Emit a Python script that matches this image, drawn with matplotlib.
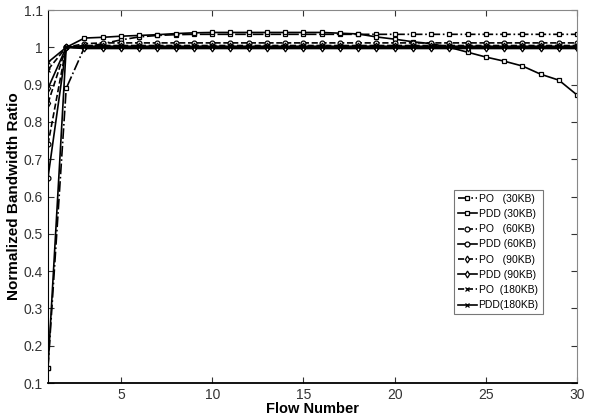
import numpy as np
import matplotlib
matplotlib.use('Agg')
import matplotlib.pyplot as plt

plt.rcParams['font.family'] = ['Liberation Sans Narrow', 'Liberation Sans', 'DejaVu Sans']

flows = list(range(1, 31))

po_30 = [0.14, 0.89, 1.0, 1.01, 1.02, 1.028, 1.032, 1.034, 1.035, 1.035,
         1.035, 1.035, 1.035, 1.035, 1.035, 1.035, 1.035, 1.035, 1.035, 1.035,
         1.035, 1.035, 1.035, 1.035, 1.035, 1.035, 1.035, 1.035, 1.035, 1.035]
pdd_30 = [0.14, 1.0, 1.025, 1.027, 1.03, 1.032, 1.034, 1.037, 1.039, 1.04,
          1.04, 1.04, 1.04, 1.04, 1.04, 1.04, 1.038, 1.036, 1.028, 1.022,
          1.015, 1.01, 1.0, 0.987, 0.974, 0.963, 0.95, 0.928, 0.912, 0.872]
po_60 = [0.74, 1.0, 1.01, 1.012, 1.012, 1.012, 1.012, 1.012, 1.012, 1.012,
         1.012, 1.012, 1.012, 1.012, 1.012, 1.012, 1.012, 1.012, 1.012, 1.012,
         1.012, 1.012, 1.012, 1.012, 1.012, 1.012, 1.012, 1.012, 1.012, 1.012]
pdd_60 = [0.65, 1.0, 1.0, 1.0, 1.0, 1.0, 1.0, 1.0, 1.0, 1.0,
          1.0, 1.0, 1.0, 1.0, 1.0, 1.0, 1.0, 1.0, 1.0, 1.0,
          1.0, 1.0, 1.0, 1.0, 1.0, 1.0, 1.0, 1.0, 1.0, 1.0]
po_90 = [0.85, 1.0, 1.005, 1.005, 1.005, 1.005, 1.005, 1.005, 1.005, 1.005,
         1.005, 1.005, 1.005, 1.005, 1.005, 1.005, 1.005, 1.005, 1.005, 1.005,
         1.005, 1.005, 1.005, 1.005, 1.005, 1.005, 1.005, 1.005, 1.005, 1.005]
pdd_90 = [0.89, 1.0, 0.997, 0.997, 0.997, 0.997, 0.997, 0.997, 0.997, 0.997,
          0.997, 0.997, 0.997, 0.997, 0.997, 0.997, 0.997, 0.997, 0.997, 0.997,
          0.997, 0.997, 0.997, 0.997, 0.997, 0.997, 0.997, 0.997, 0.997, 0.997]
po_180 = [0.94, 1.0, 1.0, 1.0, 1.0, 1.0, 1.0, 1.0, 1.0, 1.0,
          1.0, 1.0, 1.0, 1.0, 1.0, 1.0, 1.0, 1.0, 1.0, 1.0,
          1.0, 1.0, 1.0, 1.0, 1.0, 1.0, 1.0, 1.0, 1.0, 1.0]
pdd_180 = [0.96, 1.0, 1.003, 1.003, 1.003, 1.003, 1.003, 1.003, 1.003, 1.003,
           1.003, 1.003, 1.003, 1.003, 1.003, 1.003, 1.003, 1.003, 1.003, 1.003,
           1.003, 1.003, 1.003, 1.003, 1.003, 1.003, 1.003, 1.003, 1.003, 1.003]

series = [
    (po_30,   '-.', 's', 'PO   (30KB)'),
    (pdd_30,  '-',  's', 'PDD (30KB)'),
    (po_60,   '--', 'o', 'PO   (60KB)'),
    (pdd_60,  '-',  'o', 'PDD (60KB)'),
    (po_90,   '--', 'd', 'PO   (90KB)'),
    (pdd_90,  '-',  'd', 'PDD (90KB)'),
    (po_180,  '--', 'x', 'PO  (180KB)'),
    (pdd_180, '-',  'x', 'PDD(180KB)'),
]

fig = plt.figure(figsize=(5.92, 4.2), dpi=100)
ax = fig.add_axes([0.081, 0.088, 0.894, 0.888])

for vals, ls, mk, lab in series:
    ax.plot(flows, vals, color='black', ls=ls, lw=1.2, marker=mk, ms=3.5,
            mfc='white' if mk != 'x' else 'black', mec='black', mew=0.9, label=lab)

ax.set_xlim(1, 30)
ax.set_ylim(0.1, 1.1)
ax.set_xticks([5, 10, 15, 20, 25, 30])
ax.set_yticks([0.1, 0.2, 0.3, 0.4, 0.5, 0.6, 0.7, 0.8, 0.9, 1.0, 1.1])
ax.set_yticklabels(['0.1', '0.2', '0.3', '0.4', '0.5', '0.6', '0.7', '0.8', '0.9', '1', '1.1'])
ax.tick_params(direction='in', top=True, right=True, labelsize=10, length=4, colors='#333333')
for s in ax.spines.values():
    s.set_color('#888888')
ax.spines['bottom'].set_color('black')
ax.spines['left'].set_color('black')
ax.spines['bottom'].set_linewidth(1.3)

ax.set_xlabel('Flow Number', fontsize=10.5, fontweight='bold', labelpad=0,
              family=['Liberation Sans', 'DejaVu Sans'])
ax.set_ylabel('Normalized Bandwidth Ratio', fontsize=11, fontweight='bold', labelpad=2,
              family=['Liberation Sans', 'DejaVu Sans'])

leg = ax.legend(loc='lower right', bbox_to_anchor=(0.945, 0.17), fontsize=7.5,
                handlelength=1.8, handletextpad=0.2, labelspacing=0.5,
                borderpad=0.4, fancybox=False, framealpha=1, edgecolor='#777777')
leg.get_frame().set_linewidth(0.8)

plt.savefig('out.png', dpi=100)
